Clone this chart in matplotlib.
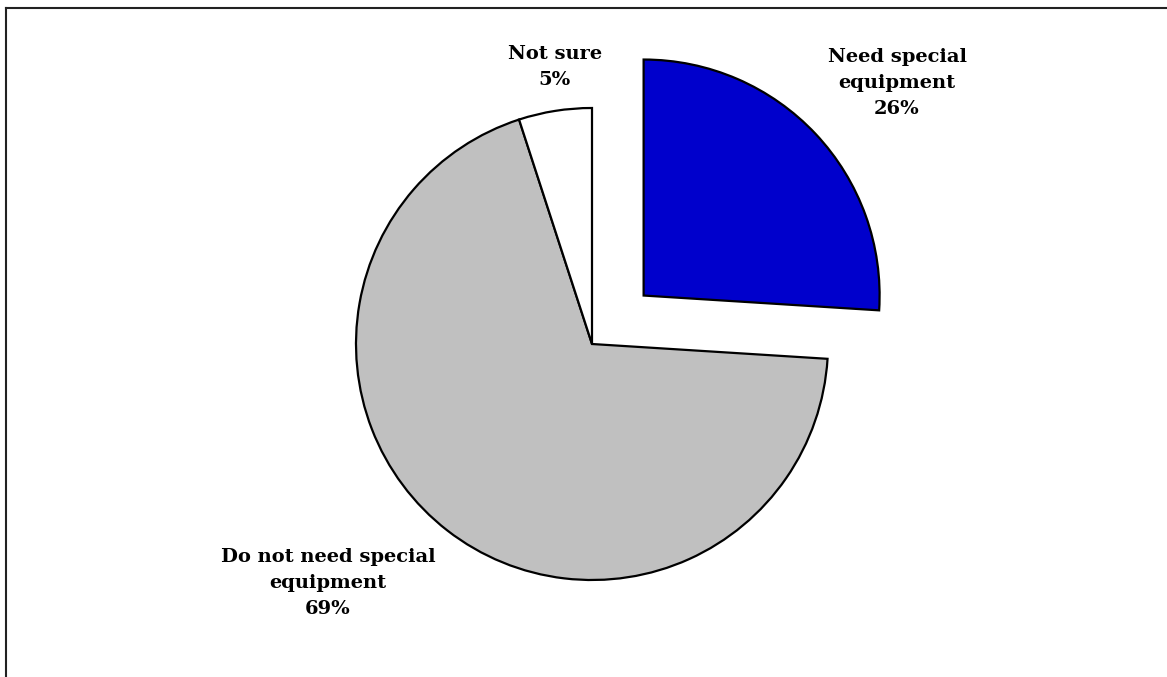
import matplotlib
matplotlib.use("Agg")
import matplotlib.pyplot as plt
from matplotlib.lines import Line2D

# Survey answers, in pie order (clockwise from 12 o'clock)
categories = ["Need special\nequipment", "Do not need special\nequipment", "Not sure"]
shares = [26, 69, 5]
colors = ["#0000CC", "#C0C0C0", "#FFFFFF"]
pull_out = [0.3, 0, 0]          # as a fraction of the radius

# label anchor points in canvas pixels (x, y from top)
label_pos = [(897, 83), (328, 583), (555, 67)]

W, H = 1167, 677
radius = 236
fig = plt.figure(figsize=(W / 100, H / 100), dpi=100)
ax = fig.add_axes([0, 0, 1, 1])

ax.pie(shares, colors=colors, explode=[p * radius for p in pull_out],
       startangle=90, counterclock=False, center=(592, H - 344), radius=radius,
       wedgeprops=dict(edgecolor="black", linewidth=1.6),
       frame=True)
ax.set_xlim(0, W)
ax.set_ylim(0, H)
ax.set_aspect("equal")
ax.axis("off")

for name, val, (x, y) in zip(categories, shares, label_pos):
    ax.text(x, H - y, f"{name}\n{val}%", ha="center", va="center",
            fontsize=14, fontweight="bold", family="DejaVu Serif",
            linespacing=1.55, color="black")

# frame lines along the top and left edges
fig.add_artist(Line2D([6 / W, 1], [1 - 8 / H, 1 - 8 / H],
                      transform=fig.transFigure, color="#222222", lw=1.5))
fig.add_artist(Line2D([6 / W, 6 / W], [0, 1 - 8 / H],
                      transform=fig.transFigure, color="#222222", lw=1.5))

fig.savefig("out.png", dpi=100, facecolor="white")
